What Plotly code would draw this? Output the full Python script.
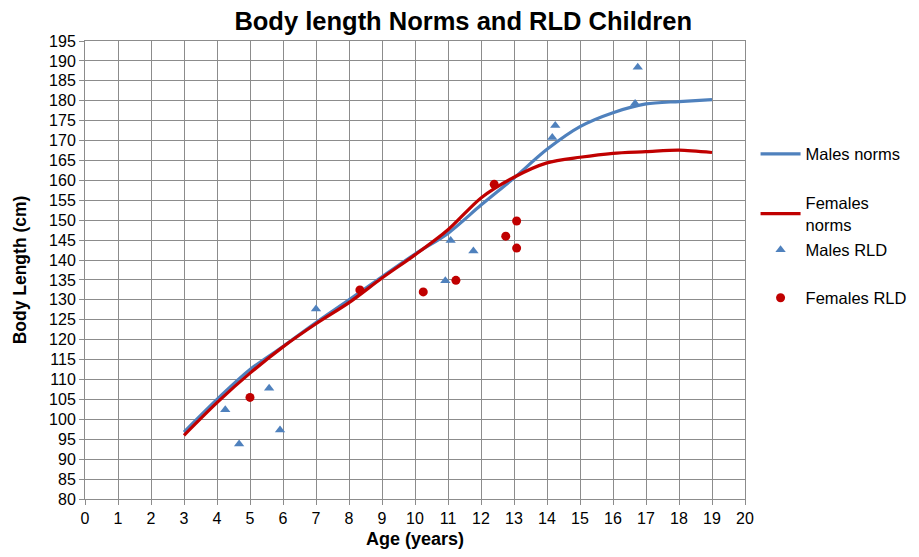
import plotly.graph_objects as go

ages = [3, 4, 5, 6, 7, 8, 9, 10, 11, 12, 13, 14, 15, 16, 17, 18, 19]
males_norms = [96.8, 105, 112.5, 118.3, 124.3, 130, 135.8, 141.5, 146.7, 153.8, 160.6, 167.8, 173.5, 177, 179.2, 179.8, 180.3]
females_norms = [96, 104.2, 111.6, 118.2, 124, 129.3, 135.5, 141.3, 147.6, 155.6, 160.8, 164.4, 165.8, 166.8, 167.2, 167.6, 167.0]

males_rld_age = [4.25, 4.67, 5.58, 5.91, 7.0, 10.92, 11.08, 11.77, 14.16, 14.25, 16.67, 16.75]
males_rld_len = [102.4, 93.8, 107.8, 97.3, 127.7, 134.8, 144.9, 142.3, 170.8, 173.8, 179.3, 188.4]

females_rld_age = [5.0, 8.33, 10.25, 11.24, 12.4, 12.75, 13.08, 13.08]
females_rld_len = [105.5, 132.5, 132.0, 134.9, 159.0, 146.0, 149.8, 143.0]

x_ticks = list(range(0, 21))
y_ticks = list(range(80, 200, 5))

BLUE = "#4F81BD"
RED = "#C00000"
GRID = "#8C8C8C"
FONT = "Liberation Sans, Arial, sans-serif"

fig = go.Figure()
fig.add_trace(go.Scatter(x=ages, y=males_norms, mode="lines", name="Males norms",
                         line=dict(color=BLUE, width=3.2, shape="spline", smoothing=0.8),
                         legend="legend"))
fig.add_trace(go.Scatter(x=ages, y=females_norms, mode="lines", name="Females<br>norms",
                         line=dict(color=RED, width=3.2, shape="spline", smoothing=0.8),
                         legend="legend2"))
fig.add_trace(go.Scatter(x=males_rld_age, y=males_rld_len, mode="markers", name="Males RLD",
                         marker=dict(symbol="triangle-up", color=BLUE, size=9),
                         legend="legend3"))
fig.add_trace(go.Scatter(x=females_rld_age, y=females_rld_len, mode="markers", name="Females RLD",
                         marker=dict(symbol="circle", color=RED, size=9),
                         legend="legend4"))

def leg(y):
    return dict(x=1.016, xanchor="left", y=y, yanchor="middle",
                font=dict(size=16.5, family=FONT), itemwidth=40,
                bgcolor="rgba(0,0,0,0)")

fig.update_layout(
    width=903, height=541,
    paper_bgcolor="white", plot_bgcolor="white",
    margin=dict(l=77, r=166, t=33, b=50, autoexpand=False),
    font=dict(family=FONT, color="black", size=16),
    title=dict(text="<b>Body length Norms and RLD Children</b>", x=0.573, xref="paper",
               xanchor="center", y=0.976, yanchor="middle",
               font=dict(size=25.5, family=FONT, color="black")),
    showlegend=True,
    legend=leg(0.753),
    legend2=leg(0.623),
    legend3=leg(0.5437),
    legend4=leg(0.4389),
)
fig.update_xaxes(range=[0, 20], tickmode="array", tickvals=x_ticks,
                 ticktext=[str(v) for v in x_ticks],
                 showgrid=True, gridcolor=GRID, gridwidth=1,
                 showline=True, linecolor=GRID, linewidth=1, mirror=True,
                 ticks="outside", ticklen=5, tickcolor=GRID,
                 tickfont=dict(size=16), zeroline=False,
                 title=dict(text="<b>Age (years)</b>", font=dict(size=18), standoff=6))
fig.update_yaxes(range=[80, 195], tickmode="array", tickvals=y_ticks,
                 ticktext=[str(v) for v in y_ticks],
                 showgrid=True, gridcolor=GRID, gridwidth=1,
                 showline=True, linecolor=GRID, linewidth=1, mirror=True,
                 ticks="outside", ticklen=5, tickcolor=GRID,
                 tickfont=dict(size=16), zeroline=False,
                 title=dict(text="<b>Body Length (cm)</b>", font=dict(size=17.5), standoff=17))

fig.write_html("out.html")
